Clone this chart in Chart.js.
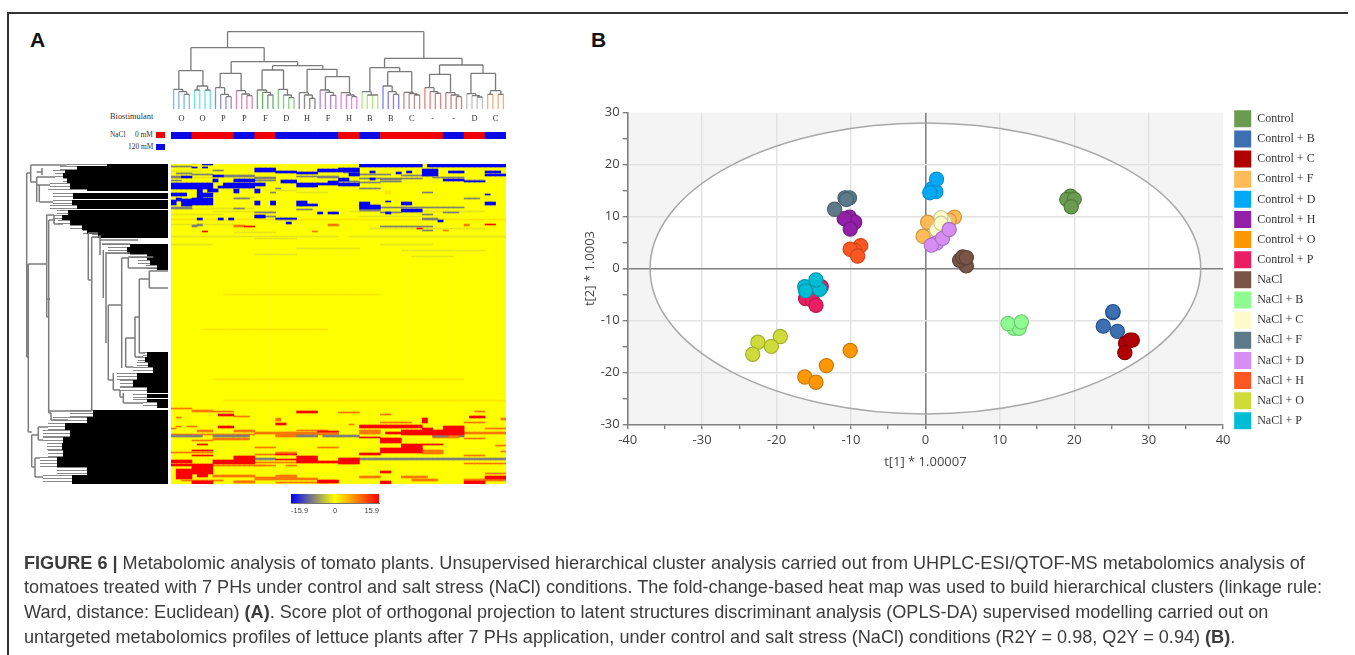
<!DOCTYPE html>
<html><head><meta charset="utf-8">
<script src="https://cdn.jsdelivr.net/npm/chart.js@4"></script>
<style>
html,body{margin:0;padding:0;width:1355px;height:655px;overflow:hidden;background:#fff}
canvas{position:absolute;filter:blur(.5px)}
#heat,#dendLeft{filter:blur(.7px)}
.t{position:absolute;white-space:nowrap;color:#333}
.s{font-family:"Liberation Serif",serif;font-size:8.4px;color:#333}
.m{font-size:7.4px}
.p{font:bold 21px "Liberation Sans",sans-serif;color:#111;top:28px}
.cap{left:24px;font:18.1px/20px "Liberation Sans",sans-serif;color:#3c3c3c;filter:blur(.25px)}
.sw{position:absolute;width:9px;height:6px}
#fl{position:absolute;left:7px;top:12px;width:1.5px;height:643px;background:#333}
#ft{position:absolute;left:7px;top:12px;width:1341px;height:1.5px;background:#333}
</style></head><body>
<div id="fl"></div><div id="ft"></div>
<div class="t p" style="left:30px">A</div>
<div class="t p" style="left:591px">B</div>
<div class="t s" style="left:110px;top:112px">Biostimulant</div>
<div class="t s m" style="left:110px;top:130px">NaCl</div>
<div class="t s m" style="left:135px;top:130px">0 mM</div>
<div class="t s m" style="left:128px;top:142px">120 mM</div>
<div class="sw" style="left:156px;top:132px;background:#f00000"></div>
<div class="sw" style="left:156px;top:144px;background:#0a0ae6"></div>
<canvas id="dendTop" width="335" height="96" style="left:171px;top:29px"></canvas>
<canvas id="nacl" width="335" height="7" style="left:171px;top:132px"></canvas>
<canvas id="dendLeft" width="148" height="320" style="left:20px;top:164px"></canvas>
<canvas id="heat" width="335" height="320" style="left:171px;top:164px"></canvas>
<canvas id="bar" width="100" height="24" style="left:285px;top:494px"></canvas>
<canvas id="score" width="773" height="375" style="left:582px;top:95px"></canvas>
<div class="t cap" style="top:553px"><b>FIGURE 6 |</b> Metabolomic analysis of tomato plants. Unsupervised hierarchical cluster analysis carried out from UHPLC-ESI/QTOF-MS metabolomics analysis of</div>
<div class="t cap" style="top:577px">tomatoes treated with 7 PHs under control and salt stress (NaCl) conditions. The fold-change-based heat map was used to build hierarchical clusters (linkage rule:</div>
<div class="t cap" style="top:602px">Ward, distance: Euclidean) <b>(A)</b>. Score plot of orthogonal projection to latent structures discriminant analysis (OPLS-DA) supervised modelling carried out on</div>
<div class="t cap" style="top:627px">untargeted metabolomics profiles of lettuce plants after 7 PHs application, under control and salt stress (NaCl) conditions (R2Y = 0.98, Q2Y = 0.94) <b>(B)</b>.</div>
<script>
/* ---------- Panel B data ---------- */
const groupNames=['Control','Control + B','Control + C','Control + F','Control + D','Control + H','Control + O','Control + P','NaCl','NaCl + B','NaCl + C','NaCl + F','NaCl + D','NaCl + H','NaCl + O','NaCl + P'];
const groupFill=['#6a9b50','#3d70b2','#b00000','#ffbb57','#03a9f4','#9220a8','#ff9800','#e91e63','#795548','#8efc8e','#fdfbc8','#5d7a8b','#d88df5','#ff5722','#cddc39','#00bcd4'];
const groupEdge=['#4f7d3b','#25508a','#8a0000','#c9963f','#0a8fd0','#761a88','#c87a10','#b9184f','#5c4036','#74cc7a','#c8c8a0','#4a6170','#a970c2','#cc461c','#a3b02e','#0097a7'];
const tOne=[[19.5,19.0,20.0,19.6],[25.2,25.2,23.9,25.8],[26.9,27.5,27.8,26.8],[0.3,-0.3,3.9,3.2],[0.85,1.4,1.5,0.6],[-10.2,-9.5,-10.9,-10.1],[-10.1,-13.3,-16.2,-14.7],[-14.0,-16.1,-15.2,-14.7],[5.5,4.6,5.0,5.5],[11.9,12.6,11.1,12.9],[1.5,2.6,2.1,2.1],[-12.2,-10.8,-10.2,-10.6],[1.5,0.8,2.3,3.2],[-8.7,-9.5,-10.1,-9.1],[-19.5,-22.5,-20.7,-23.2],[-14.2,-16.2,-16.1,-14.7]];
const tTwo=[[13.9,13.3,13.35,11.9],[-8.5,-8.3,-11.1,-12.1],[-14.4,-13.8,-13.8,-16.2],[8.9,6.2,9.9,9.3],[15.3,14.8,17.2,14.6],[9.9,8.9,9.6,7.6],[-15.8,-18.7,-20.9,-21.9],[-3.5,-5.8,-6.1,-7.1],[0.5,1.6,2.2,2.1],[-11.5,-11.5,-10.6,-10.3],[7.4,9.0,9.8,8.7],[11.4,13.6,13.6,13.3],[4.9,4.5,5.8,7.5],[4.4,3.5,3.7,2.4],[-13.1,-14.2,-15.0,-16.5],[-4.0,-3.5,-4.3,-2.2]];
const ellipseRadii=[37,28];

/* ---------- Panel A data: sample groups ---------- */
const sampleLabels=['O','O','P','P','F','D','H','F','H','B','B','C','-','-','D','C'];
const naclLevels=[120,0,0,120,0,120,120,120,0,120,0,0,0,120,0,120];
const leafColors=['#7fb4e8','#66e5e5','#8f8fd0','#e880b0','#60b060','#80d080','#8a8a8a','#b880e8','#e880e8','#b0e880','#8080f0','#c09090','#e88080','#d08080','#c0c0c0','#f0b080'];
const groupCaps=[[19.7,17.3,14.7],[23,19,19],[21.3,14.7,12.3],[18.3,15,13.3],[19,16.7,14],[19.7,14,11.3],[16.3,14,10.7],[19,16.7,13.7],[16.3,14,12.3],[17.3,14,14],[23,17.3,14.7],[16.7,15.3,14],[21.3,17.3,15.7],[16.3,14,12.3],[15.3,13.3,12],[18.3,14.7,14.7]];
const pairedGroups=[1,15];
const topLinks=[[10.3,47.8,77.3,61.3,50.7],[3.3,17.3,61.3,38.3,47.3],[11,23.7,47.3,35.7,43.3],[1,5.6,38.3,19.7,23],[8.9,12.9,35.7,21.3,18.3],[18.9,28.5,43.3,39,39.7],[16.9,21,39,19,19.7],[25.5,31.2,39.7,16.3,32.3],[29,33.6,32.3,19,16.3],[40.3,55.1,50.7,41.3,44],[37.5,43.2,41.3,17.3,37.3],[40.9,45.5,37.3,23,16.7],[50.8,59.1,44,34.7,35.7],[48.9,52.9,34.7,21.3,16.3],[56.8,61.5,35.7,15.3,18.3]];

/* ---------- Panel A data: left dendrogram, [distance1,row1,distance2,row2] ---------- */
const leftEdges=[[139.7,100,139.7,268],[139.7,100,121.3,100],[121.3,51,121.3,153],[121.3,51,114,51],[121.3,153,119.3,153],[119.3,56,119.3,249],[119.3,247,76.3,247],[119.3,56,113,56],[76.3,73,76.3,247],[76.3,73,68,73],[79.7,69,79.7,116],[68,71,68,91],[79.7,116,76.3,116],[79.7,69,70,69],[64.7,86,64.7,134],[62,88,62,179],[62,89,38,89],[68,76,30,76],[66,80,38,80],[59.7,141,59.7,216],[59.7,141,46.3,141],[46.3,94,46.3,204],[46.3,94,39.7,94],[39.7,93,39.7,104],[39.7,104,11,104],[39.7,93,14.7,93],[42.3,174,42.3,203],[42.3,174,33,174],[33,153,33,193],[33,153,28.7,153],[28.7,115,28.7,189],[28.7,115,18.7,115],[18.7,107,18.7,124],[18.7,107,0,107],[18.7,124,0,124],[28.7,189,23,189],[42.3,203,34.7,203],[33,193,25,193],[59.7,216,54.7,216],[54.7,209,54.7,226],[54.7,226,48,226],[48,226,48,233],[48,233,44.7,233],[44.7,229,44.7,239],[44.7,239,25,239],[141.3,9,141.3,193],[141.3,193,139.7,193],[141.3,9,137.3,9],[137.3,1,137.3,18],[137.3,1,101.3,1],[137.3,18,131.3,18],[131.3,13,131.3,38],[131.3,8,126,8],[126,4,126,11],[128.7,21,128.7,38],[131.3,21,118,21],[128.7,38,115,38],[131.3,13,113,13],[139.7,268,136.3,268],[136.3,271,136.3,303],[136.3,303,133,303],[133,294,133,313],[133,313,125,313],[133,294,128,294],[136.3,271,129.7,271],[129.7,263,129.7,276],[129.7,263,120,263],[129.7,276,125,276],[119.3,249,117,249],[117,249,117,256],[117,256,100,256],[114,51,114,60],[114,60,105,60],[121.3,135,118,135]];
const leafBlack=[[0,2,61],[2,6,91],[6,9,103],[9,14,105],[14,19,101],[19,25,98],[25,27,81],[29,35,95],[36,41,96],[41,45,91],[46,51,100],[51,56,106],[56,61,98],[61,66,86],[66,70,81],[70,74,70],[80,83,38],[83,90,41],[90,96,21],[96,101,18],[101,106,11],[188,193,21],[193,198,23],[198,203,20],[203,209,15],[209,216,31],[216,223,35],[223,229,21],[230,234,21],[235,238,21],[238,244,11],[246,253,75],[253,259,81],[259,266,103],[266,273,98],[273,279,105],[279,286,106],[286,293,105],[293,303,111],[303,311,81],[311,320,96]];
const leafGray=[[0,2,101],[2,6,108],[6,9,115],[9,14,113],[14,19,105],[19,25,118],[25,27,120],[29,35,115],[36,41,115],[41,45,118],[46,51,111],[51,56,115],[56,61,110],[61,66,98],[66,70,85],[70,74,76],[80,83,66],[83,90,60],[90,96,38],[96,101,30],[101,106,22],[188,193,25],[193,198,30],[198,203,31],[203,209,35],[209,216,51],[216,223,48],[223,229,48],[230,234,35],[235,238,35],[238,244,25],[246,253,98],[253,259,115],[259,266,120],[266,273,125],[273,279,125],[279,286,121],[286,293,120],[293,303,128],[303,311,111],[311,320,125]];

/* ---------- Panel A data: heat map runs [rowFrom,rowTo,colFrom,colTo] ---------- */
const colCount=64;
const rowCount=320;
const valueRange=15.9;
const heatBaseRuns=[[0,320,0,64]];
const heatFaintRuns=[[7,8,0,6],[13,14,4,8],[24,25,8,12],[26,27,20,24],[28,29,24,30],[33,34,12,16],[44,45,4,16],[47,48,8,20],[47,48,34,60],[50,51,0,10],[52,53,36,48],[60,61,0,12],[64,65,38,60],[68,69,12,20],[72,73,0,32],[72,73,34,64],[74,75,16,24],[80,81,0,8],[80,81,40,50],[84,85,24,36],[86,87,44,60],[90,91,16,24],[92,93,46,54]];
const heatPaleRuns=[[55,56,0,64],[27,30,41,42],[130,131,10,40],[165,166,6,30],[215,216,8,56],[236,237,10,64]];
const heatGrayRuns=[[2,3,0,4],[9,10,1,4],[10,11,4,8],[6,7,8,10],[13,15,16,20],[16,17,16,20],[12,13,24,28],[12,14,28,32],[16,17,0,2],[43,45,0,4],[44,45,12,14],[45,46,24,27],[24,25,20,21],[28,29,19,20],[48,49,16,20],[52,53,16,20],[55,56,20,24],[34,35,12,15],[60,62,5,6],[61,63,4,5],[12,14,0,2],[11,13,10,16],[8,9,33,36],[15,16,40,44],[17,18,40,44],[10,11,36,42],[11,12,44,50],[14,15,36,48],[13,14,50,56],[16,17,56,60],[17,18,32,36],[18,19,36,40],[24,25,36,40],[28,29,48,50],[34,35,56,59],[45,47,36,40],[48,49,40,44],[48,49,52,55],[50,51,48,50],[54,56,48,51],[62,63,40,50],[66,67,48,50],[43,44,40,56],[271,273,0,6],[271,273,8,15],[271,273,24,28],[271,273,29,32],[271,273,32,36],[271,273,50,53],[271,273,55,56],[294,296,16,20],[294,296,36,64]];
const heatBlueRuns=[[0,1,6,8],[3,4,4,5],[3,4,6,7],[4,8,16,20],[7,9,20,24],[5,8,28,32],[8,10,24,28],[12,14,2,4],[11,13,8,10],[15,18,8,9],[15,18,12,16],[16,19,21,24],[19,23,24,28],[19,21,28,32],[17,19,30,32],[19,25,0,8],[25,29,5,6],[25,28,7,9],[19,22,10,18],[22,24,9,16],[25,29,12,13],[25,29,16,17],[29,32,0,3],[29,34,5,6],[29,33,6,8],[34,37,1,2],[34,36,4,8],[36,41,0,1],[35,42,2,4],[36,41,4,8],[37,41,16,17],[37,41,19,20],[37,42,24,26],[40,42,26,28],[48,50,28,29],[48,50,30,32],[51,54,16,18],[54,56,5,6],[54,56,9,10],[54,56,11,12],[54,55,20,24],[58,60,22,23],[0,3,36,48],[0,3,49,64],[4,8,32,36],[5,12,48,51],[7,9,53,56],[8,10,43,44],[7,9,38,39],[7,9,45,46],[7,9,60,63],[10,12,60,64],[9,12,34,36],[14,17,32,34],[14,16,38,39],[15,17,52,56],[17,18,56,60],[19,22,32,36],[38,42,36,38],[41,45,36,40],[38,41,44,46],[45,48,44,48],[38,41,60,62],[30,31,60,61],[56,58,51,52],[37,38,41,42],[48,50,41,42]];
const heatOrangeRuns=[[61,63,12,14],[67,68,27,28],[60,62,30,32],[60,62,56,57],[66,67,52,53],[244,245,0,4],[246,247,4,8],[254,257,20,21],[262,263,1,2],[262,263,3,5],[247,248,58,60],[254,256,63,64],[260,261,34,35],[266,270,36,40],[271,274,50,55],[286,290,48,52],[312,314,36,40],[312,314,44,49],[317,319,12,16],[270,271,0,16],[270,271,20,32],[269,273,20,24],[276,277,4,8],[283,284,28,32],[288,289,0,8],[301,302,4,20],[313,314,16,24],[316,317,2,10],[318,319,20,30],[266,267,24,30],[258,259,40,46],[247,248,4,12],[252,253,12,15],[253,254,1,2],[264,265,0,1],[266,268,5,8],[266,268,12,16],[268,270,16,32],[274,276,8,15],[283,284,16,20],[288,290,20,24],[290,291,16,20],[298,299,16,24],[301,302,16,18],[301,302,22,24],[311,313,8,16],[311,313,20,24],[314,316,16,28],[317,318,12,16],[248,249,32,36],[250,251,40,42],[258,259,56,60],[264,265,60,64],[268,270,56,64],[274,275,56,60],[281,282,62,64],[291,292,56,60],[287,288,63,64],[299,300,56,64],[309,310,60,64],[315,317,46,51],[315,317,56,64]];
const heatRedRuns=[[62,63,14,16],[67,68,6,7],[60,61,60,62],[64,65,47,48],[247,249,24,28],[250,252,9,12],[259,261,20,22],[262,264,9,12],[267,268,28,32],[280,281,5,7],[286,287,4,8],[291,292,4,8],[292,296,12,16],[296,300,8,16],[296,299,0,4],[292,299,24,28],[297,299,28,32],[300,305,4,8],[305,310,1,8],[310,315,1,4],[310,313,5,7],[317,320,4,8],[316,319,28,32],[300,302,0,4],[295,296,20,24],[290,291,20,24],[252,254,57,60],[254,259,48,49],[261,264,36,48],[262,271,52,56],[266,271,44,52],[264,266,48,50],[268,270,41,44],[273,274,36,40],[274,279,40,44],[280,286,44,48],[284,289,40,48],[280,281,48,52],[289,291,36,40],[294,300,32,36],[307,309,40,42],[312,315,60,64],[317,320,56,60],[317,320,40,42]];
const heatScaleTicks=[-15.9,0,15.9];

/* ---------- helpers ---------- */
Chart.defaults.animation=false;
Chart.defaults.responsive=false;
Chart.defaults.devicePixelRatio=1;
Chart.defaults.plugins.tooltip.enabled=false;
Chart.defaults.plugins.legend.display=false;
const gap={x:NaN,y:NaN};
function heatColor(v){
  const t=Math.abs(v)/valueRange;
  const to=v<0?[0,0,245]:[250,0,0], from=[255,255,0];
  return `rgb(${from.map((c,i)=>Math.round(c+(to[i]-c)*t)).join(',')})`;
}
const noAxis={display:false,grid:{display:false}};

/* ---------- top dendrogram ---------- */
const treeInner=[],leafSets=leafColors.map(()=>[]);
function seg(arr,x1,y1,x2,y2){arr.push({x:x1,y:y1},{x:x2,y:y2},gap);}
topLinks.forEach(([l,r,h,hl,hr])=>{seg(treeInner,l,hl,l,h);seg(treeInner,l,h,r,h);seg(treeInner,r,h,r,hr);});
groupCaps.forEach(([h1,h2,h3],g)=>{
  const a=4*g,b=a+1,c=a+2,d=a+3,L=leafSets[g];
  if(pairedGroups.includes(g)){
    seg(treeInner,a,h2,b,h2);seg(treeInner,c,h3,d,h3);
    seg(treeInner,a+.5,h2,a+.5,h1);seg(treeInner,c+.5,h3,c+.5,h1);seg(treeInner,a+.5,h1,c+.5,h1);
    [[a,h2],[b,h2],[c,h3],[d,h3]].forEach(([x,h])=>seg(L,x,0,x,h));
  }else{
    const m3=c+.5,m2=(b+m3)/2;
    seg(treeInner,c,h3,d,h3);seg(treeInner,b,h2,m3,h2);seg(treeInner,m3,h3,m3,h2);
    seg(treeInner,a,h1,m2,h1);seg(treeInner,m2,h2,m2,h1);
    [[a,h1],[b,h2],[c,h3],[d,h3]].forEach(([x,h])=>seg(L,x,0,x,h));
  }
});
new Chart(document.getElementById('dendTop'),{type:'scatter',
  data:{datasets:[{data:treeInner,showLine:true,pointRadius:0,borderColor:'#7a7a7a',borderWidth:1.3,spanGaps:false,order:1},
    ...leafSets.map((d,i)=>({data:d,showLine:true,pointRadius:0,borderColor:leafColors[i],borderWidth:1.3,spanGaps:false,order:2}))]},
  options:{layout:{padding:0},scales:{
    x:{type:'linear',min:-.5,max:63.5,grid:{display:false,drawTicks:false},border:{display:false},
      afterBuildTicks(s){s.ticks=sampleLabels.map((_,i)=>({value:4*i+1.5}));},
      ticks:{autoSkip:false,maxRotation:0,padding:4.5,color:'#333',font:{family:'Liberation Serif',size:8.4},callback:(v,i)=>sampleLabels[i]},
      afterFit(s){s.height=16;}},
    y:{...noAxis,min:0,max:80}}}});

/* ---------- NaCl strip ---------- */
new Chart(document.getElementById('nacl'),{type:'bar',
  data:{labels:sampleLabels.map((s,i)=>i),datasets:[{data:naclLevels.map(()=>1),barPercentage:1,categoryPercentage:1,
    backgroundColor:naclLevels.map(n=>n===0?'#f00000':'#0a0ae6')}]},
  options:{layout:{padding:0},scales:{x:noAxis,y:{...noAxis,min:0,max:1}}}});

/* ---------- left dendrogram ---------- */
function leafLines(bands,step){const o=[];bands.forEach(([a,b,d])=>{for(let r=a;r<b;r+=step)o.push({x:d,y:r+.5},{x:0,y:r+.5},gap);});return o;}
const edgeLines=[];leftEdges.forEach(([a,b,c,d])=>seg(edgeLines,a,b,c,d));
new Chart(document.getElementById('dendLeft'),{type:'scatter',
  data:{datasets:[
    {data:edgeLines,showLine:true,pointRadius:0,borderColor:'#7c7c7c',borderWidth:1.5,spanGaps:false,order:1},
    {data:leafLines(leafBlack,1),showLine:true,pointRadius:0,borderColor:'#000',borderWidth:1.1,spanGaps:false,order:2},
    {data:leafLines(leafGray,3),showLine:true,pointRadius:0,borderColor:'#8a8a8a',borderWidth:1,spanGaps:false,order:3}]},
  options:{layout:{padding:0},scales:{x:{...noAxis,type:'linear',min:0,max:148,reverse:true},y:{...noAxis,type:'linear',min:0,max:rowCount,reverse:true}}}});

/* ---------- heat map ---------- */
function heatBars(runs){const o=[];runs.forEach(([r0,r1,c0,c1])=>{for(let c=c0;c<c1;c++)o.push({x:String(c),y:[r0,r1]});});return o;}
const heatClasses=[[heatBaseRuns,0],[heatFaintRuns,-1.6],[heatPaleRuns,1.6],[heatOrangeRuns,8.5],[heatGrayRuns,-8],[heatBlueRuns,-15.9],[heatRedRuns,15.9]];
new Chart(document.getElementById('heat'),{type:'bar',
  data:{labels:Array.from({length:colCount},(_,i)=>String(i)),
    datasets:heatClasses.map(([runs,v],i)=>({data:heatBars(runs),backgroundColor:heatColor(v),barPercentage:1,categoryPercentage:1,grouped:false,order:10-i}))},
  options:{layout:{padding:0},scales:{x:noAxis,y:{...noAxis,type:'linear',min:0,max:rowCount,reverse:true}}}});

/* ---------- colour bar ---------- */
new Chart(document.getElementById('bar'),{type:'bar',
  data:{labels:['FC'],datasets:[{data:[[heatScaleTicks[0],heatScaleTicks[2]]],barPercentage:1,categoryPercentage:1,
    backgroundColor(c){const a=c.chart.chartArea;if(!a)return '#ff0';const g=c.chart.ctx.createLinearGradient(a.left,0,a.right,0);
      g.addColorStop(0,'#0000ff');g.addColorStop(.5,'#ffff00');g.addColorStop(1,'#ff0000');return g;}}]},
  options:{indexAxis:'y',layout:{padding:{left:6,right:6,top:0,bottom:0}},scales:{
    y:noAxis,
    x:{type:'linear',min:heatScaleTicks[0],max:heatScaleTicks[2],grid:{display:false,tickLength:3,tickColor:'#666'},border:{display:true,color:'#777'},
      afterBuildTicks(s){s.ticks=heatScaleTicks.map(v=>({value:v}));},
      ticks:{align:'inner',autoSkip:false,maxRotation:0,padding:0,color:'#444',font:{family:'Liberation Sans',size:7.5},callback:v=>String(v)},
      afterFit(s){s.height=15;}}}}});

/* ---------- score plot ---------- */
const ellipsePlugin={id:'ellipse',
afterLayout(c){const L=c.legend;L.top-=5.5;L.bottom-=5.5;L.left+=1;L.right+=1;},
beforeDraw(c){
  const {ctx,chartArea:a,scales:{x,y}}=c;
  ctx.save();ctx.fillStyle='#f4f4f4';ctx.fillRect(a.left,a.top,a.width,a.height);
  const cx=x.getPixelForValue(0),cy=y.getPixelForValue(0);
  const rx=x.getPixelForValue(ellipseRadii[0])-cx,ry=cy-y.getPixelForValue(ellipseRadii[1]);
  ctx.beginPath();ctx.ellipse(cx,cy,rx,ry,0,0,2*Math.PI);ctx.fillStyle='#fff';ctx.fill();ctx.restore();
},beforeDatasetsDraw(c){
  const {ctx,scales:{x,y}}=c;
  const cx=x.getPixelForValue(0),cy=y.getPixelForValue(0);
  const rx=x.getPixelForValue(ellipseRadii[0])-cx,ry=cy-y.getPixelForValue(ellipseRadii[1]);
  ctx.save();ctx.beginPath();ctx.ellipse(cx,cy,rx,ry,0,0,2*Math.PI);ctx.strokeStyle='#a8a8a8';ctx.lineWidth=1.5;ctx.stroke();ctx.restore();
}};
const axisFont={family:'Open Sans',size:13};
function gridColor(limit){return c=>{const v=c.tick.value;if(v===0)return '#808080';if(v%10!==0||Math.abs(v)===limit)return 'rgba(0,0,0,0)';return '#e2e2e2';};}
function gridWidth(c){return c.tick.value===0?1.6:1.4;}
new Chart(document.getElementById('score'),{type:'scatter',plugins:[ellipsePlugin],
  data:{datasets:groupNames.map((n,i)=>({label:n,order:16-i,
    data:tOne[i].map((v,j)=>({x:v,y:tTwo[i][j]})),
    backgroundColor:groupFill[i],borderColor:groupEdge[i],pointRadius:7.1,borderWidth:1.2}))},
  options:{layout:{padding:{top:17.7,right:30.7,bottom:0,left:0}},
    plugins:{legend:{display:true,position:'right',align:'start',
      labels:{boxWidth:17,boxHeight:17,padding:3.13,color:'#333',font:{family:'Liberation Serif',size:12},
        generateLabels:()=>groupNames.map((n,i)=>({text:n,fillStyle:groupFill[i],strokeStyle:groupFill[i],lineWidth:0,hidden:false,datasetIndex:i,fontColor:'#333'}))}}},
    scales:{
      x:{type:'linear',min:-40,max:40,
        grid:{color:gridColor(40),lineWidth:gridWidth,tickLength:5,tickColor:'#808080'},
        border:{color:'#808080',width:1.6},
        afterBuildTicks(s){s.ticks=[];for(let v=-40;v<=40;v+=5)s.ticks.push({value:v});},
        ticks:{autoSkip:false,maxRotation:0,padding:3,color:'#444',font:axisFont,callback:v=>v%10===0?String(v):''},
        title:{display:true,text:'t[1] * 1.00007',color:'#444',font:axisFont,padding:0},
        afterFit(s){s.height=45.7;}},
      y:{type:'linear',min:-30,max:30,
        grid:{color:gridColor(30),lineWidth:gridWidth,tickLength:5,tickColor:'#808080'},
        border:{color:'#808080',width:1.6},
        afterBuildTicks(s){s.ticks=[];for(let v=-30;v<=30;v+=5)s.ticks.push({value:v});},
        ticks:{autoSkip:false,padding:3,color:'#444',font:axisFont,callback:v=>v%10===0?String(v):''},
        title:{display:true,text:'t[2] * 1.0003',color:'#444',font:axisFont,padding:0},
        afterFit(s){s.width=45.7;}},
      legendGap:{type:'linear',position:'right',ticks:{display:false},grid:{display:false},border:{display:false},afterFit(s){s.width=7;}}
    }}});
</script>
</body></html>
